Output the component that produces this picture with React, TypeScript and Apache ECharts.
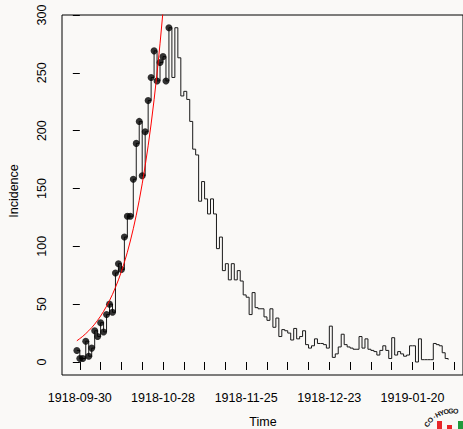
import React, { useEffect, useRef } from "react";
import * as echarts from "echarts";

// Day 0 = 1918-09-30
const startDay = -1;
const incidence = [
  10, 3, 3, 18, 5, 12, 27, 22, 34, 26, 41, 50, 43, 77, 85, 80, 108, 126, 126, 158,
  189, 208, 161, 199, 226, 246, 269, 243, 259, 264, 243, 289, 246, 289, 263, 230, 234, 227, 208, 184,
  179, 139, 156, 141, 128, 141, 128, 98, 108, 79, 85, 71, 85, 71, 79, 70, 58, 56, 41, 60,
  47, 46, 46, 39, 36, 46, 30, 38, 22, 28, 27, 25, 19, 29, 20, 22, 27, 15, 12, 14,
  20, 16, 16, 15, 12, 31, 4, 7, 13, 24, 15, 13, 12, 11, 11, 22, 12, 20, 11, 10,
  9, 6, 10, 14, 10, 3, 21, 6, 9, 7, 5, 6, 14, 14, 0, 20, 2, 2, 2, 2,
  16, 15, 14, 8, 3, 2,
];
const fittedPointCount = 32; // days -1 .. 30 shown as dots
const fitCurve = [
  18.3, 20.2, 22.2, 24.5, 27.0, 29.7, 32.7, 36.1, 39.7, 43.8,
  48.2, 53.1, 58.5, 64.5, 71.0, 78.2, 86.2, 94.9, 104.6, 115.2,
  126.9, 139.8, 154.0, 169.6, 186.9, 205.8, 226.7, 249.8, 275.1, 303.1,
];
const xTickDays = [0, 7, 14, 21, 28, 35, 42, 49, 56, 63, 70, 77, 84, 91, 98, 105, 112, 119, 126];
const xLabelDays = [0, 28, 56, 84, 112];
const xLabels = ["1918-09-30", "1918-10-28", "1918-11-25", "1918-12-23", "1919-01-20"];
const yTicks = [0, 50, 100, 150, 200, 250, 300];
const logoChars = ["C", "O", "·", "H", "Y", "O", "G", "O"];
const logoAngles = [-146, -136, -126, -118, -110, -101, -92, -83];

const FONT = "'Liberation Sans', Arial, Helvetica, sans-serif";

export default function App() {
  const ref = useRef<HTMLDivElement>(null);
  useEffect(() => {
    if (!ref.current) return;
    const chart = echarts.init(ref.current, null, { renderer: "svg" });
    const stepData = incidence.map((v, i) => [startDay + i, v]);
    const dotData = stepData.slice(0, fittedPointCount);
    const curveData = fitCurve.map((v, i) => [startDay + i, v]);

    const cx = 452, cy = 441, r = 30;
    const logo: any[] = logoChars.map((ch, i) => {
      const a = (logoAngles[i] * Math.PI) / 180;
      return {
        type: "text",
        x: cx + r * Math.cos(a),
        y: cy + r * Math.sin(a),
        rotation: -(a + Math.PI / 2),
        style: { text: ch, fontSize: 7, fontWeight: "bold", fill: "#111", fontFamily: FONT, align: "center", verticalAlign: "middle" },
      };
    });
    logo.push(
      { type: "rect", shape: { x: 437, y: 421, width: 5, height: 9 }, style: { fill: "#e8262a" } },
      { type: "rect", shape: { x: 447, y: 425, width: 5, height: 5 }, style: { fill: "#e8262a" } },
      { type: "rect", shape: { x: 458, y: 421, width: 6, height: 9 }, style: { fill: "#1f9a3c" } }
    );

    chart.setOption({
      animation: false,
      backgroundColor: "#faf9f7",
      textStyle: { fontFamily: FONT },
      grid: { left: 62, top: 15, width: 404, height: 360, show: true, borderColor: "#000", borderWidth: 1, backgroundColor: "transparent" },
      xAxis: {
        type: "value",
        min: -6,
        max: 129,
        axisLine: { show: false },
        splitLine: { show: false },
        axisTick: { show: true, customValues: xTickDays, length: 8, inside: false, lineStyle: { color: "#000", width: 1 } },
        axisLabel: {
          customValues: xLabelDays,
          margin: 16,
          fontSize: 12.5,
          color: "#000",
          fontFamily: FONT,
          formatter: (v: number) => {
            const k = xLabelDays.indexOf(Math.round(v));
            return k >= 0 ? xLabels[k] : "";
          },
        },
      },
      yAxis: {
        type: "value",
        min: -11.25,
        max: 300,
        axisLine: { show: false },
        splitLine: { show: false },
        axisTick: { show: true, customValues: yTicks, length: 7, inside: false, lineStyle: { color: "#000", width: 1 } },
        axisLabel: { customValues: yTicks, rotate: 90, margin: 14, fontSize: 12.5, color: "#000", fontFamily: FONT },
      },
      graphic: [
        { type: "text", x: 263, y: 422, style: { text: "Time", fontSize: 12.5, fill: "#000", fontFamily: FONT, align: "center", verticalAlign: "middle" } },
        { type: "text", x: 14, y: 191, rotation: Math.PI / 2, style: { text: "Incidence", fontSize: 12.5, fill: "#000", fontFamily: FONT, align: "center", verticalAlign: "middle" } },
        ...logo,
      ],
      series: [
        {
          type: "line",
          data: stepData,
          step: "end",
          showSymbol: false,
          clip: true,
          lineStyle: { color: "#1a1a1a", width: 1 },
          z: 2,
        },
        {
          type: "scatter",
          data: dotData,
          symbol: "circle",
          symbolSize: 7,
          itemStyle: { color: "#000" },
          z: 3,
        },
        {
          type: "line",
          data: curveData,
          showSymbol: false,
          clip: true,
          smooth: false,
          lineStyle: { color: "#ff0000", width: 1 },
          z: 4,
        },
      ],
    });
    return () => chart.dispose();
  }, []);
  return <div ref={ref} style={{ position: "fixed", left: 0, top: 0, width: 463, height: 429 }} />;
}
